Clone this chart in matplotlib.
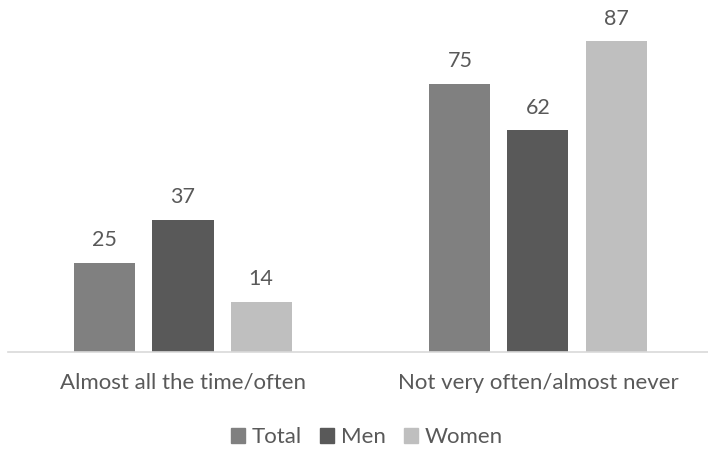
import matplotlib
matplotlib.use("Agg")
import matplotlib.pyplot as plt
import numpy as np

categories = ["Almost all the time/often", "Not very often/almost never"]
series_names = ["Total", "Men", "Women"]
total = [25, 75]
men = [37, 62]
women = [14, 87]
colors = ["#808080", "#595959", "#bfbfbf"]

plt.rcParams['font.family'] = ['Lato', 'DejaVu Sans']
text_color = "#595959"

fig = plt.figure(figsize=(7.08, 4.49), dpi=100)
ax = fig.add_axes([8/708, (449-352)/449, 700/708, 352/449])

x = np.arange(len(categories))
width = 0.172
step = 0.22
for i, (name, vals, c) in enumerate(zip(series_names, [total, men, women], colors)):
    pos = x + (i - 1) * step
    bars = ax.bar(pos, vals, width, color=c, label=name)
    for b, v in zip(bars, vals):
        ax.annotate(f"{v}", (b.get_x() + b.get_width()/2, v), xytext=(0, 9),
                    textcoords="offset points", ha="center", va="bottom",
                    fontsize=15.5, color=text_color)

ax.set_xlim(-0.493, 1.479)
ax.set_ylim(0, 98.5)
ax.set_yticks([])
ax.set_xticks(x)
ax.set_xticklabels(categories, fontsize=16, color=text_color)
ax.tick_params(axis='x', length=0, pad=15)
for s in ["top", "right", "left"]:
    ax.spines[s].set_visible(False)
ax.spines["bottom"].set_color("#d9d9d9")
ax.spines["bottom"].set_linewidth(1.2)

handles = [plt.Rectangle((0, 0), 1, 1, color=c) for c in colors]
fig.legend(handles, series_names, loc="center", bbox_to_anchor=(0.518, (449-437)/449),
           ncol=3, frameon=False, fontsize=16, handlelength=0.65, handleheight=0.65,
           handletextpad=0.3, columnspacing=0.8, labelcolor=text_color)

fig.savefig("out.png", dpi=100)
